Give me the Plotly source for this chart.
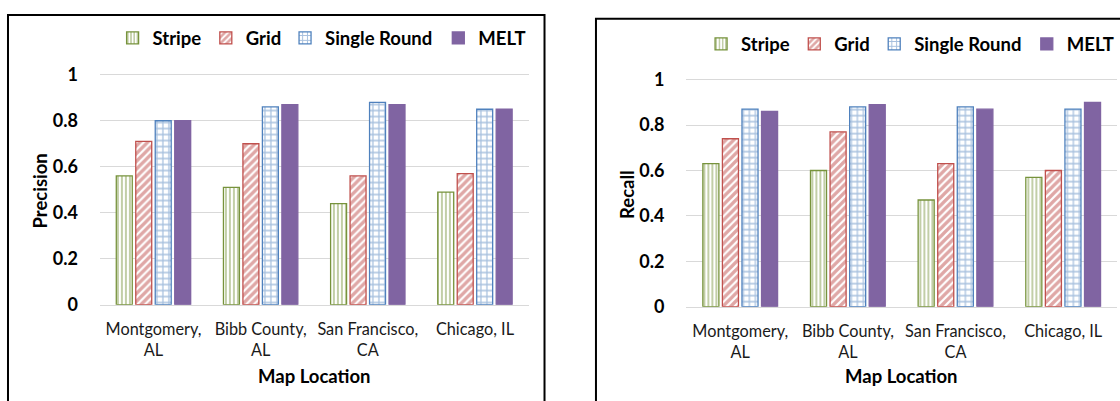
import plotly.graph_objects as go

# ---------------- data ----------------
categories = ["Montgomery,<br>AL", "Bibb County,<br>AL", "San Francisco,<br>CA", "Chicago, IL"]
series_names = ["Stripe", "Grid", "Single Round", "MELT"]

precision_stripe = [0.56, 0.51, 0.44, 0.49]
precision_grid = [0.71, 0.70, 0.56, 0.57]
precision_single = [0.80, 0.86, 0.88, 0.85]
precision_melt = [0.80, 0.87, 0.87, 0.85]

recall_stripe = [0.63, 0.60, 0.47, 0.57]
recall_grid = [0.74, 0.77, 0.63, 0.60]
recall_single = [0.87, 0.88, 0.88, 0.87]
recall_melt = [0.86, 0.89, 0.87, 0.90]

y_tick_vals = [0, 0.2, 0.4, 0.6, 0.8, 1]
y_tick_text = ["0", "0.2", "0.4", "0.6", "0.8", "1"]

# ---------------- styling ----------------
W, H = 1120, 401          # reference picture size (positions below are read in these pixels)
H_LAYOUT = 410            # figure height that fills the captured page area
FONT = "Lato"


def px(x):
    return x / W


def py(y):
    return 1 - y / H


styles = {
    "Stripe": dict(color="#77933C", pattern=dict(shape="|", fgcolor="#77933C", bgcolor="white", size=4, solidity=0.45)),
    "Grid": dict(color="#C0504D", pattern=dict(shape="/", fgcolor="#C0504D", bgcolor="white", size=5.5, solidity=0.6)),
    "Single Round": dict(color="#4F81BD", pattern=dict(shape="+", fgcolor="#4F81BD", bgcolor="white", size=6, solidity=0.38)),
    "MELT": dict(color="#8064A2", pattern=None),
}

precision = [precision_stripe, precision_grid, precision_single, precision_melt]
recall = [recall_stripe, recall_grid, recall_single, recall_melt]

fig = go.Figure()

legend_ids_left = ["legend", "legend2", "legend3", "legend4"]
legend_ids_right = ["legend5", "legend6", "legend7", "legend8"]


def add_series(values_list, xa, ya, legend_ids):
    for name, vals, lid in zip(series_names, values_list, legend_ids):
        st = styles[name]
        marker = dict(color=st["color"], line=dict(color=st["color"], width=1.3))
        if st["pattern"] is not None:
            marker["pattern"] = st["pattern"]
        fig.add_trace(go.Bar(
            x=categories, y=vals, name=name, marker=marker,
            xaxis=xa, yaxis=ya, legend=lid, showlegend=True,
        ))


add_series(precision, "x", "y", legend_ids_left)
add_series(recall, "x2", "y2", legend_ids_right)

# legend symbol centres (pixels)
left_sym = [137.2, 230.5, 309.8, 463.2]
right_sym = [726.2, 819.5, 899.5, 1052.2]
legend_font = dict(family=FONT, size=18.5, color="#000000", weight="bold")
legend_layout = {}
for lid, sx in zip(legend_ids_left, left_sym):
    legend_layout[lid] = dict(x=px(sx - 24.5), y=py(36.7), xanchor="left", yanchor="middle",
                              orientation="h", bgcolor="rgba(0,0,0,0)", borderwidth=0, font=legend_font)
for lid, sx in zip(legend_ids_right, right_sym):
    legend_layout[lid] = dict(x=px(sx - 24.5), y=py(42.7), xanchor="left", yanchor="middle",
                              orientation="h", bgcolor="rgba(0,0,0,0)", borderwidth=0, font=legend_font)

YMAX = 1.04
# left plot: y=0 at 305px, 231.7 px per unit
l_bottom = 305
l_top = 305 - YMAX * 231.7
# right plot: y=0 at 307px, 228.7 px per unit
r_bottom = 307
r_top = 307 - YMAX * 228.7

xaxis_common = dict(
    type="category", showgrid=False, ticks="", showline=True, linecolor="#D9D9D9", linewidth=1,
    tickfont=dict(family=FONT, size=16.3, color="#1a1a1a"), ticklabelstandoff=10, zeroline=False,
)
yaxis_common = dict(
    range=[0, YMAX], tickvals=y_tick_vals, ticktext=y_tick_text, showgrid=True,
    gridcolor="#D9D9D9", gridwidth=1, zeroline=False, ticks="", showline=False,
    tickfont=dict(family=FONT, size=18, color="#000000", weight="bold"), ticklabelstandoff=21,
)

fig.update_layout(
    width=W, height=H_LAYOUT, autosize=False,
    margin=dict(l=0, r=0, t=0, b=0),
    paper_bgcolor="white", plot_bgcolor="white",
    barmode="group", bargap=0.273, bargroupgap=0.18,
    showlegend=True,
    xaxis=dict(domain=[px(100), px(529)], anchor="y", **xaxis_common),
    yaxis=dict(domain=[py(l_bottom), py(l_top)], anchor="x", **yaxis_common),
    xaxis2=dict(domain=[px(687), px(1118)], anchor="y2", **xaxis_common),
    yaxis2=dict(domain=[py(r_bottom), py(r_top)], anchor="x2", **yaxis_common),
    **legend_layout,
)

title_font = dict(family=FONT, size=18.5, color="#000000", weight="bold")
fig.add_annotation(text="Precision", x=px(40), y=py(190), xref="paper", yref="paper",
                   textangle=-90, showarrow=False, font=title_font, xanchor="center", yanchor="middle")
fig.add_annotation(text="Recall", x=px(627), y=py(194), xref="paper", yref="paper",
                   textangle=-90, showarrow=False, font=title_font, xanchor="center", yanchor="middle")
fig.add_annotation(text="Map Location", x=px(314.5), y=py(377), xref="paper", yref="paper",
                   showarrow=False, font=title_font, xanchor="center", yanchor="middle")
fig.add_annotation(text="Map Location", x=px(902.5), y=py(377), xref="paper", yref="paper",
                   showarrow=False, font=title_font, xanchor="center", yanchor="middle")

# chart frames
fig.add_shape(type="rect", xref="paper", yref="paper", x0=px(8), x1=px(545), y0=py(412), y1=py(13),
              line=dict(color="#000000", width=2), fillcolor="rgba(0,0,0,0)", layer="above")
fig.add_shape(type="rect", xref="paper", yref="paper", x0=px(596.5), x1=px(1125), y0=py(412), y1=py(17),
              line=dict(color="#000000", width=2), fillcolor="rgba(0,0,0,0)", layer="above")

fig.write_html("out.html", config={"displayModeBar": False},
               post_script="document.body.style.margin='0';")
